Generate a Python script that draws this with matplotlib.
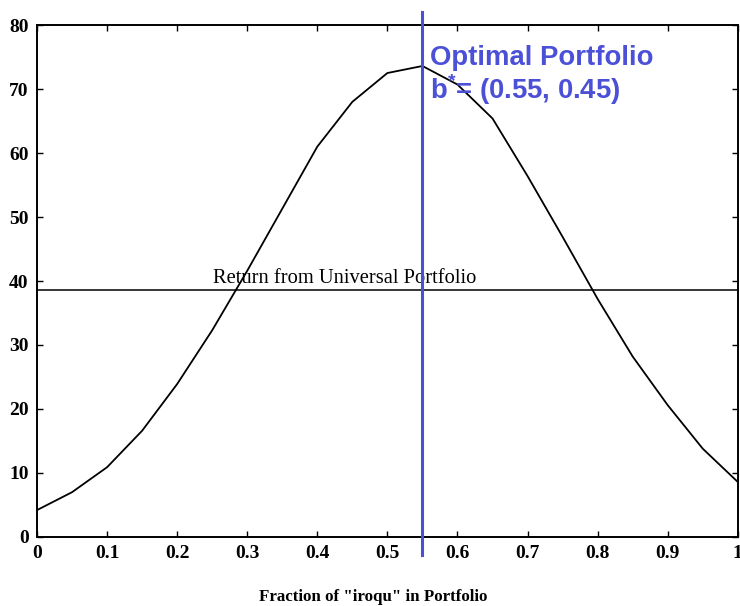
import numpy as np
import matplotlib
matplotlib.use("Agg")
import matplotlib.pyplot as plt

plt.rcParams["mathtext.fontset"] = "custom"
plt.rcParams["mathtext.rm"] = "Liberation Sans:bold"
plt.rcParams["mathtext.bf"] = "Liberation Sans:bold"

# wealth of the constant rebalanced portfolio vs fraction held in "iroqu"
frac = [0.0, 0.05, 0.1, 0.15, 0.2, 0.25, 0.3, 0.35, 0.4, 0.45, 0.5,
        0.55, 0.6, 0.65, 0.7, 0.75, 0.8, 0.85, 0.9, 0.95, 1.0]
wealth = [4.2, 7.0, 10.9, 16.6, 23.9, 32.3, 41.6, 51.3, 61.0, 68.0, 72.5,
          73.6, 70.7, 65.4, 56.4, 46.9, 37.2, 28.2, 20.6, 13.8, 8.6]
universal_return = 38.6
best_frac = 0.55

fig = plt.figure(figsize=(7.4, 6.06), dpi=100)
ax = fig.add_axes([0.05, 0.1139, 0.947, 0.8448])

ax.plot(frac, wealth, color="black", lw=1.3)
ax.axhline(universal_return, color="black", lw=1.1)
ax.text(0.251, universal_return + 0.3, "Return from Universal Portfolio",
        family="Liberation Serif", fontsize=14.8, va="bottom", ha="left")

# optimal portfolio marker, runs a bit past the frame
ax.plot([best_frac, best_frac], [-2.8, 82], color="#4b50d6", lw=2.2,
        clip_on=False, zorder=5)
ax.text(0.561, 72.0, "Optimal Portfolio\nb$^{*}$= (0.55, 0.45)",
        family="Liberation Sans", fontweight="bold", fontsize=19.8,
        color="#4b50d6", va="center", ha="left", linespacing=1.05)

ax.set_xlim(0, 1)
ax.set_ylim(0, 80)
ax.set_xticks(np.arange(0, 1.01, 0.1))
ax.set_xticklabels(["0", "0.1", "0.2", "0.3", "0.4", "0.5", "0.6",
                    "0.7", "0.8", "0.9", "1"])
ax.set_yticks(np.arange(0, 81, 10))
ax.tick_params(direction="in", length=4, width=1, top=True, right=True,
               labelsize=14, pad=6)
for lbl in ax.get_xticklabels() + ax.get_yticklabels():
    lbl.set_family("Liberation Serif")
    lbl.set_fontweight("bold")
for sp in ax.spines.values():
    sp.set_linewidth(1.4)

fig.text(0.504, 0.0152, 'Fraction of "iroqu" in Portfolio',
         family="Liberation Serif", fontweight="bold", fontsize=12.2,
         ha="center", va="center")

fig.savefig("out.png", dpi=100)
